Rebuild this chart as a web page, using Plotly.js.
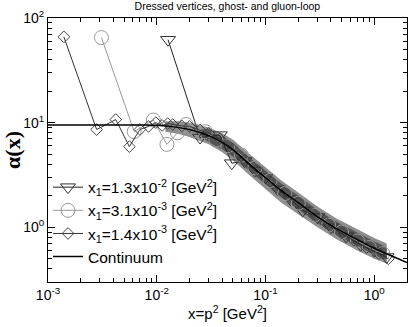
<!DOCTYPE html>
<html>
<head>
<meta charset="utf-8">
<script src="https://cdn.plot.ly/plotly-3.0.1.min.js"></script>
<style>
  html, body { margin: 0; padding: 0; background: #fff; }
  #plot { width: 409px; height: 327px; }
</style>
</head>
<body>
<div id="plot"></div>
<script>
// continuum curve
var contX = [0.001, 0.003, 0.006, 0.01, 0.015, 0.02, 0.03, 0.04, 0.05, 0.07, 0.1, 0.14, 0.2, 0.3, 0.45, 0.7, 1.0, 1.4, 2.0];
var contY = [9.5, 9.5, 9.5, 9.45, 9.06, 8.58, 7.51, 6.44, 5.52, 4.06, 2.98, 2.24, 1.72, 1.26, 0.97, 0.76, 0.63, 0.54, 0.46];

// lattice data, x1 = 1.3e-2 (triangles)
var triX = [0.0127, 0.025, 0.038, 0.049, 0.064, 0.08, 0.1, 0.13, 0.17, 0.22, 0.3, 0.4, 0.55, 0.75, 1.0, 1.3];
var triY = [62, 7.2, 7.6, 4.1, 4.3, 3.5, 3.0, 2.3, 1.85, 1.45, 1.25, 1.0, 0.82, 0.68, 0.6, 0.52];

// x1 = 3.1e-3 (circles)
var cirX = [0.0031, 0.0062, 0.0093, 0.0124, 0.0155, 0.0186, 0.022, 0.028, 0.035, 0.045, 0.06, 0.08, 0.11, 0.15, 0.2, 0.28, 0.38, 0.5, 0.7, 0.9, 1.2];
var cirY = [65, 8.2, 10.6, 6.2, 8.0, 9.6, 8.4, 8.2, 6.8, 6.0, 4.9, 3.7, 2.8, 2.1, 1.7, 1.3, 1.05, 0.9, 0.74, 0.64, 0.56];

// x1 = 1.4e-3 (diamonds)
var diaX = [0.0014, 0.0028, 0.0042, 0.0056, 0.007, 0.0084, 0.0098, 0.0112, 0.0126, 0.014, 0.017, 0.02, 0.025, 0.03, 0.038, 0.05, 0.065, 0.085, 0.11, 0.15, 0.2, 0.27, 0.36, 0.5, 0.65, 0.85, 1.1, 1.35];
var diaY = [66, 8.6, 10.7, 5.9, 8.6, 9.2, 10.0, 9.4, 9.8, 9.6, 9.3, 9.2, 8.5, 7.9, 7.0, 5.6, 4.4, 3.5, 2.75, 2.1, 1.7, 1.35, 1.1, 0.88, 0.75, 0.64, 0.56, 0.5];

// spread of the dense lattice points
var bandX = [0.012, 0.016, 0.02, 0.03, 0.04, 0.05, 0.07, 0.1, 0.14, 0.2, 0.3, 0.45, 0.7, 1.0, 1.3];
var bandHi = [10.3, 10.3, 10.0, 9.0, 7.9, 6.9, 5.1, 3.75, 2.8, 2.15, 1.58, 1.21, 0.95, 0.79, 0.7];
var bandLo = [8.2, 7.8, 7.3, 6.2, 5.2, 4.4, 3.2, 2.3, 1.72, 1.33, 1.0, 0.77, 0.6, 0.5, 0.45];
var coreX = [0.025, 0.03, 0.04, 0.05, 0.07, 0.1, 0.14, 0.2, 0.3, 0.45, 0.7, 1.0, 1.3];
var coreHi = [8.6, 8.7, 7.5, 6.4, 4.7, 3.45, 2.6, 2.0, 1.46, 1.13, 0.88, 0.73, 0.645];
var coreLo = [7.6, 6.5, 5.55, 4.75, 3.5, 2.57, 1.93, 1.48, 1.09, 0.84, 0.655, 0.545, 0.48];

// axis ticks
var xTickVals = [0.001, 0.01, 0.1, 1];
var xTickText = ["10<sup>-3</sup>", "10<sup>-2</sup>", "10<sup>-1</sup>", "10<sup>0</sup>"];
var yTickVals = [1, 10, 100];
var yTickText = ["10<sup>0</sup>", "10<sup>1</sup>", "10<sup>2</sup>"];

var traces = [
  {x: bandX, y: bandLo, mode: "lines", line: {width: 0}, showlegend: false, hoverinfo: "skip"},
  {x: bandX, y: bandHi, mode: "lines", line: {width: 0}, fill: "tonexty", fillcolor: "#8e8e8e", showlegend: false, hoverinfo: "skip"},
  {x: coreX, y: coreLo, mode: "lines", line: {width: 0}, showlegend: false, hoverinfo: "skip"},
  {x: coreX, y: coreHi, mode: "lines", line: {width: 0}, fill: "tonexty", fillcolor: "#555555", showlegend: false, hoverinfo: "skip"},
  {
    x: triX, y: triY, mode: "lines+markers", type: "scatter",
    name: "x<sub>1</sub>=1.3x10<sup>-2</sup> [GeV<sup>2</sup>]",
    line: {color: "#222", width: 1},
    marker: {symbol: "triangle-down-open", size: 13, color: "#333", line: {width: 1}}
  },
  {
    x: cirX, y: cirY, mode: "lines+markers", type: "scatter",
    name: "x<sub>1</sub>=3.1x10<sup>-3</sup> [GeV<sup>2</sup>]",
    line: {color: "#999", width: 1},
    marker: {symbol: "circle-open", size: 14, color: "#999", line: {width: 1}}
  },
  {
    x: diaX, y: diaY, mode: "lines+markers", type: "scatter",
    name: "x<sub>1</sub>=1.4x10<sup>-3</sup> [GeV<sup>2</sup>]",
    line: {color: "#333", width: 1},
    marker: {symbol: "diamond-open", size: 9, color: "#444", line: {width: 1}}
  },
  {
    x: contX, y: contY, mode: "lines", type: "scatter",
    name: "Continuum",
    line: {color: "#000", width: 1.5, shape: "spline"}
  }
];

var axisCommon = {
  type: "log",
  showline: true, linecolor: "#000", linewidth: 1,
  mirror: "allticks",
  ticks: "inside", ticklen: 7, tickcolor: "#000",
  showgrid: false, zeroline: false,
  tickmode: "array",
  minor: {ticks: "inside", ticklen: 4, tickcolor: "#000", dtick: "D1", showgrid: false},
  tickfont: {family: "Liberation Sans, Arial, sans-serif", size: 14, color: "#000"}
};

var layout = {
  width: 409, height: 327,
  margin: {l: 48, r: 2, t: 18, b: 45},
  paper_bgcolor: "#fff", plot_bgcolor: "#fff",
  title: {
    text: "Dressed vertices, ghost- and gluon-loop",
    font: {family: "Liberation Sans, Arial, sans-serif", size: 10.5, color: "#000"},
    x: 0.556, xanchor: "center", y: 0.982, yanchor: "middle"
  },
  xaxis: Object.assign({}, axisCommon, {
    range: [-3, Math.log10(2)],
    tickvals: xTickVals, ticktext: xTickText,
    title: {text: "x=p<sup>2</sup> [GeV<sup>2</sup>]", font: {family: "Liberation Sans, Arial, sans-serif", size: 15, color: "#000"}, standoff: 4}
  }),
  yaxis: Object.assign({}, axisCommon, {
    range: [Math.log10(0.3), 2],
    tickvals: yTickVals, ticktext: yTickText,
    title: {text: "<b>α(x)</b>", font: {family: "Liberation Serif, Times New Roman, serif", size: 22, color: "#000"}, standoff: 2}
  }),
  showlegend: true,
  legend: {
    x: 0.0, xanchor: "left", y: 0.422, yanchor: "top",
    traceorder: "normal",
    bgcolor: "rgba(0,0,0,0)", borderwidth: 0,
    font: {family: "Liberation Sans, Arial, sans-serif", size: 15.5, color: "#000"},
    tracegroupgap: 0
  }
};

Plotly.newPlot("plot", traces, layout, {displayModeBar: false, staticPlot: true});
</script>
</body>
</html>
